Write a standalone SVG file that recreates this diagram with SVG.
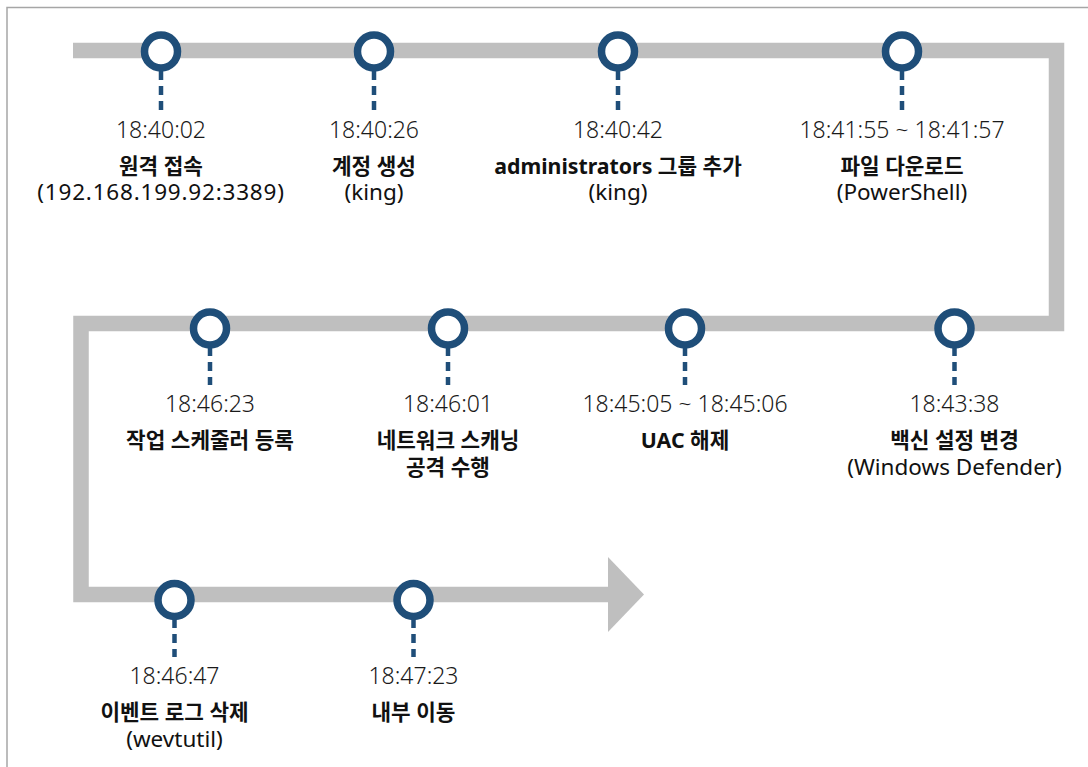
<svg xmlns="http://www.w3.org/2000/svg" width="1088" height="767" viewBox="0 0 1088 767">
<style>
.t{font-family:"Noto Sans","Noto Sans CJK KR",sans-serif;font-size:23px;font-weight:300;fill:#1a1a1a;text-anchor:middle}
.h{font-family:"Noto Sans","Noto Sans CJK KR",sans-serif;font-size:21.3px;font-weight:700;fill:#111;text-anchor:middle}
.s{font-family:"Noto Sans","Noto Sans CJK KR",sans-serif;font-size:22.5px;font-weight:400;fill:#111;text-anchor:middle}
.c{fill:#fff;stroke:#1f4e79;stroke-width:7.5}
.d{stroke:#1f4e79;stroke-width:4.5;stroke-dasharray:9 6;fill:none}
</style>
<rect width="1088" height="767" fill="#fff"/>
<path d="M7 767 V7.5 H1088" fill="none" stroke="#a6a6a6" stroke-width="1.5"/>
<g id="connectors">
<path d="M73 50.5 H1056.5 V323.5 H81 V594.5 H608" fill="none" stroke="#bfbfbf" stroke-width="15.5" stroke-linejoin="miter"/>
<polygon points="608,557 644,594.5 608,632" fill="#bfbfbf"/>
</g>
<g id="n1"><line class="d" x1="161" y1="71" x2="161" y2="110"/><circle class="c" cx="161" cy="51.5" r="16.5"/><text class="t" x="161" y="137.5">18:40:02</text><text class="h" x="161" y="174">원격 접속</text><text class="s" x="161" y="200" letter-spacing="0.8">(192.168.199.92:3389)</text></g>
<g id="n2"><line class="d" x1="374" y1="71" x2="374" y2="110"/><circle class="c" cx="374" cy="51.5" r="16.5"/><text class="t" x="374" y="137.5">18:40:26</text><text class="h" x="374" y="174">계정 생성</text><text class="s" x="374" y="200">(king)</text></g>
<g id="n3"><line class="d" x1="618" y1="71" x2="618" y2="110"/><circle class="c" cx="618" cy="51.5" r="16.5"/><text class="t" x="618" y="137.5">18:40:42</text><text class="h" x="618" y="174">administrators 그룹 추가</text><text class="s" x="618" y="200">(king)</text></g>
<g id="n4"><line class="d" x1="902" y1="71" x2="902" y2="110"/><circle class="c" cx="902" cy="51.5" r="16.5"/><text class="t" x="902" y="137.5">18:41:55 ~ 18:41:57</text><text class="h" x="902" y="174">파일 다운로드</text><text class="s" x="902" y="200">(PowerShell)</text></g>
<g id="n5"><line class="d" x1="954.5" y1="347" x2="954.5" y2="385"/><circle class="c" cx="954.5" cy="328.5" r="16.5"/><text class="t" x="954.5" y="411.5">18:43:38</text><text class="h" x="954.5" y="448">백신 설정 변경</text><text class="s" x="954.5" y="475">(Windows Defender)</text></g>
<g id="n6"><line class="d" x1="685" y1="347" x2="685" y2="385"/><circle class="c" cx="685" cy="328.5" r="16.5"/><text class="t" x="685" y="411.5">18:45:05 ~ 18:45:06</text><text class="h" x="685" y="448">UAC 해제</text></g>
<g id="n7"><line class="d" x1="448" y1="347" x2="448" y2="385"/><circle class="c" cx="448" cy="328.5" r="16.5"/><text class="t" x="448" y="411.5">18:46:01</text><text class="h" x="448" y="448">네트워크 스캐닝</text><text class="h" x="448" y="475">공격 수행</text></g>
<g id="n8"><line class="d" x1="210" y1="347" x2="210" y2="385"/><circle class="c" cx="210" cy="328.5" r="16.5"/><text class="t" x="210" y="411.5">18:46:23</text><text class="h" x="210" y="448">작업 스케줄러 등록</text></g>
<g id="n9"><line class="d" x1="174.5" y1="619" x2="174.5" y2="657"/><circle class="c" cx="174.5" cy="600" r="16.5"/><text class="t" x="174.5" y="684">18:46:47</text><text class="h" x="174.5" y="720">이벤트 로그 삭제</text><text class="s" x="174.5" y="747">(wevtutil)</text></g>
<g id="n10"><line class="d" x1="413.5" y1="619" x2="413.5" y2="657"/><circle class="c" cx="413.5" cy="600" r="16.5"/><text class="t" x="413.5" y="684">18:47:23</text><text class="h" x="413.5" y="720">내부 이동</text></g>
</svg>
